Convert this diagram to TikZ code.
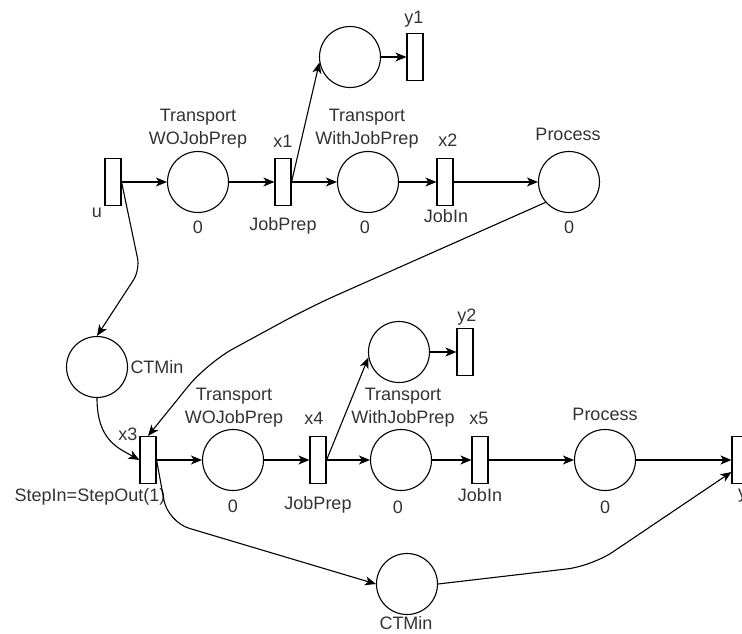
\documentclass[tikz,border=0pt]{standalone}
\usepackage{fontspec}
\setmainfont{Liberation Sans}
\usetikzlibrary{arrows.meta,positioning,calc}
\definecolor{ink}{HTML}{000000}
\definecolor{txt}{HTML}{333333}
\tikzset{
  place/.style={circle, draw=ink, fill=white, line width=1.1pt,
                minimum size=61pt, inner sep=0pt},
  trans/.style={rectangle, draw=ink, fill=white, line width=1.1pt,
                minimum width=16pt, minimum height=47pt, inner sep=0pt},
  ar/.style={-{Stealth[length=11pt, width=9pt, inset=3pt]}, line width=1.1pt, draw=ink},
  lbl/.style={font=\fontsize{18}{23}\selectfont, text=txt, inner sep=0pt, align=center}
}
\begin{document}
\begin{tikzpicture}[x=1pt, y=-1pt]
  \useasboundingbox (0,0) rectangle (742,634);
  \clip (0,0) rectangle (742,634);
  % places and transitions
  \foreach \n/\x/\y in {pa1/198/182, pb1/350/57, pc1/368/182, pd1/569/182, pm1/97/367,
                        pa2/233/460, pb2/399/352, pc2/401/460, pd2/605/460, pm2/407/584}
    \node[place] (\n) at (\x,\y) {};
  \foreach \n/\x/\y in {tu/113/182, tx1/283/182, ty1/415/57, tx2/445/182,
                        tx3/148/460, tx4/318/460, ty2/465/352, tx5/480/460, ty3/740/460}
    \node[trans] (\n) at (\x,\y) {};
  % labels
  \foreach \n/\x/\y/\t in {lu/97/217/u, l01/198/233.5/0, lx1/283/147/x1, lj1/283/230/JobPrep,
                           ly1/414/24/y1, l02/365/233.5/0, lx2/448/146/x2, lji1/446/222/JobIn,
                           lp1/568/140.5/Process, l03/569/233.5/0, lm1/157/373/CTMin,
                           lx3/128/440/x3, ls/90/501/StepIn=StepOut(1), l04/233/512/0,
                           lx4/314/424/x4, lj2/318/509/JobPrep, ly2/467/321/y2,
                           l05/398/513/0, lx5/479/424/x5, lji2/480/501/JobIn,
                           lp2/605/420/Process, l06/605/513/0, lm2/406/629.5/CTMin}
    \node[lbl, anchor=base] (\n) at (\x,\y) {\t};
  \node[lbl, anchor=base west] (ly3) at (738,498) {y3};
  \node[lbl, anchor=south] (la1) at (198,148.5) {Transport\\WOJobPrep};
  \node[lbl, anchor=south] (lc1) at (367,148.5) {Transport\\WithJobPrep};
  \node[lbl, anchor=south] (la2) at (234,427) {Transport\\WOJobPrep};
  \node[lbl, anchor=south] (lc2) at (403,427) {Transport\\WithJobPrep};
  % bends
  \coordinate (k1) at (310,307);
  \coordinate (k2) at (207,363);
  \coordinate (k3) at (140,270);
  \coordinate (k4) at (168,522);
  \coordinate (k5) at (592,566);
  % arcs, first line
  \draw[ar] (tu.east) -- (pa1.west);
  \draw[ar] (pa1.east) -- (tx1.west);
  \draw[ar] (tx1.east) -- (pc1.west);
  \draw[ar] (tx1.east) -- (pb1.190);
  \draw[ar] (pb1.east) -- (ty1.west);
  \draw[ar] (pc1.east) -- (tx2.west);
  \draw[ar] (tx2.east) -- (pd1.west);
  \draw[ar, rounded corners=12pt] (tu.east) -- (k3) -- (pm1.north);
  \draw[ar, rounded corners=30pt] (pd1.221) -- (k1) -- (k2) -- (tx3.north);
  \draw[ar] (pm1.south) .. controls (97,440) and (118,448) .. (tx3.west);
  % arcs, second line
  \draw[ar] (tx3.east) -- (pa2.west);
  \draw[ar] (pa2.east) -- (tx4.west);
  \draw[ar] (tx4.east) -- (pc2.west);
  \draw[ar] (tx4.east) -- (pb2.190);
  \draw[ar] (pb2.east) -- (ty2.west);
  \draw[ar] (pc2.east) -- (tx5.west);
  \draw[ar] (tx5.east) -- (pd2.west);
  \draw[ar] (pd2.east) -- (ty3.west);
  \draw[ar, rounded corners=22pt] (tx3.east) -- (k4) -- (pm2.west);
  \draw[ar, rounded corners=25pt] (pm2.east) -- (k5) -- ($(ty3.west)+(0,12)$);
\end{tikzpicture}
\end{document}
